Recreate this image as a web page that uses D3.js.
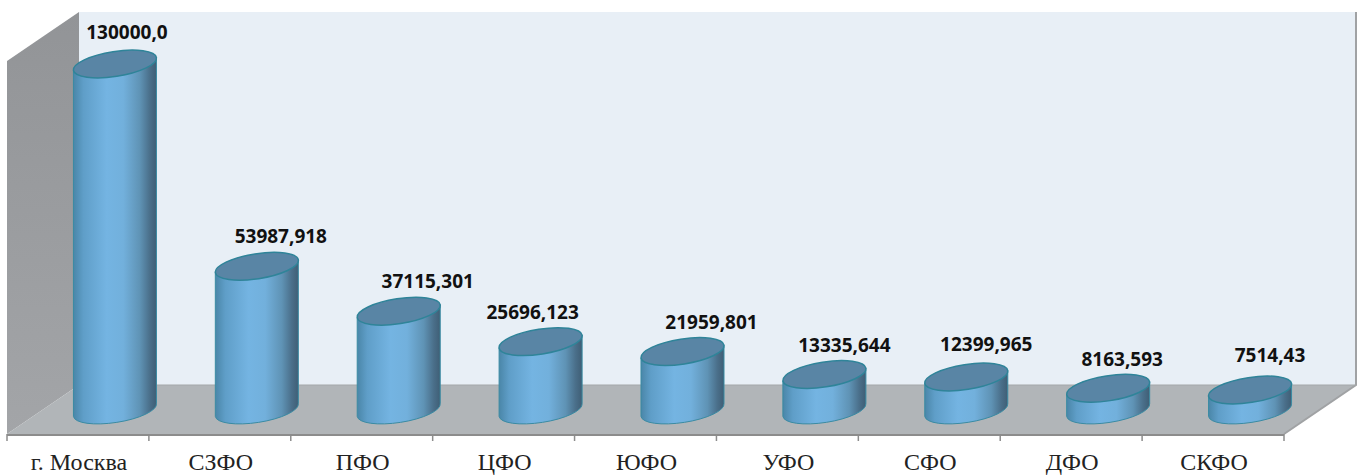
<!DOCTYPE html>
<html lang="ru">
<head>
  <meta charset="UTF-8" />
  <title>Федеральные округа</title>
  <script src="https://d3js.org/d3.v7.min.js"></script>
  <style>
    html, body { margin: 0; padding: 0; background: #fff; overflow: hidden; }
    svg { display: block; }
    .cat text { font-family: 'Liberation Serif', serif; font-size: 24px; fill: #222; }
    .val { font-family: 'Open Sans', sans-serif; font-weight: 700; font-size: 19px; fill: #111; }
  </style>
</head>
<body>
<svg id="chart" width="1366" height="476"></svg>
<script>
  const categories = ["г. Москва", "СЗФО", "ПФО", "ЦФО", "ЮФО", "УФО", "СФО", "ДФО", "СКФО"];
  const values = [130000, 53987.918, 37115.301, 25696.123, 21959.801, 13335.644, 12399.965, 8163.593, 7514.43];
  const valueLabels = ["130000,0", "53987,918", "37115,301", "25696,123", "21959,801", "13335,644", "12399,965", "8163,593", "7514,43"];

  // hand placed labels in the original, offset from the top of each cylinder
  const labelDx = [12, 24, 29, -8, 29, 20, 20, 14, 20];
  const labelDy = [-32, -30, -30, -30, -30, -30, -33, -29, -35];

  // box of the fake 3d chart
  const left = 7, right = 1284, floorY = 434;
  const depthX = 72, depthY = 49, wallH = 373;
  const shiftX = 37;          // cylinders stand in the middle of the floor
  const rx = 42, ry = 12.5, tilt = -8.8;

  const svg = d3.select("#chart");

  const x = d3.scaleBand().domain(categories).range([left, right]);
  const y = d3.scaleLinear().domain([0, 130000]).range([410, 64]);

  const defs = svg.append("defs");
  const grad = defs.append("linearGradient").attr("id", "side");
  [["0%", "#4a86a8"], ["12%", "#5f9ec8"], ["40%", "#74b4e2"], ["60%", "#72b0dc"], ["80%", "#5f93b5"], ["92%", "#4a6f8a"], ["100%", "#3f5e75"]]
    .forEach(s => grad.append("stop").attr("offset", s[0]).attr("stop-color", s[1]));
  const wallGrad = defs.append("linearGradient").attr("id", "wall").attr("x1", 0).attr("x2", 0).attr("y1", 0).attr("y2", 1);
  wallGrad.append("stop").attr("offset", "0%").attr("stop-color", "#929497");
  wallGrad.append("stop").attr("offset", "100%").attr("stop-color", "#a3a5a8");

  const pts = a => a.map(p => p.join(",")).join(" ");

  // back wall, left wall, floor
  svg.append("polygon").attr("fill", "#e8eff6")
    .attr("points", pts([[left + depthX, floorY - depthY - wallH], [right + depthX, floorY - depthY - wallH],
      [right + depthX, floorY - depthY], [left + depthX, floorY - depthY]]));
  svg.append("polygon").attr("fill", "url(#wall)")
    .attr("points", pts([[left, floorY - wallH], [left + depthX, floorY - depthY - wallH],
      [left + depthX, floorY - depthY], [left, floorY]]));
  svg.append("polygon").attr("fill", "#b1b5b8")
    .attr("points", pts([[left, floorY], [left + depthX, floorY - depthY],
      [right + depthX, floorY - depthY], [right, floorY]]));

  // outline on the right side
  svg.append("polyline").attr("fill", "none").attr("stroke", "#a0a2a4").attr("stroke-width", 2)
    .attr("points", pts([[right + depthX, floorY - depthY - wallH], [right + depthX, floorY - depthY], [right, floorY]]));
  svg.append("line").attr("x1", left + depthX).attr("x2", right + depthX)
    .attr("y1", floorY - depthY).attr("y2", floorY - depthY)
    .attr("stroke", "#a4a7a9").attr("stroke-width", 1);

  // axis: labels from d3.axisBottom, ticks on the band edges
  const axis = svg.append("g").attr("class", "cat").attr("transform", `translate(1,${floorY})`)
    .call(d3.axisBottom(x).tickSize(0).tickPadding(19));
  axis.select(".domain").remove();
  axis.selectAll("text").attr("dy", "0.71em");

  svg.append("line").attr("x1", left).attr("x2", right).attr("y1", floorY + 1).attr("y2", floorY + 1)
    .attr("stroke", "#8c8c8c").attr("stroke-width", 2);
  const edges = categories.map(c => x(c)).concat([right]);
  svg.selectAll(".tick-mark").data(edges).enter().append("line")
    .attr("class", "tick-mark")
    .attr("x1", d => d).attr("x2", d => d)
    .attr("y1", floorY).attr("y2", floorY + 7)
    .attr("stroke", "#8c8c8c").attr("stroke-width", 1.5);

  // cylinders
  const rad = tilt * Math.PI / 180;
  const dx = rx * Math.cos(rad), dy = rx * Math.sin(rad);
  const cx = c => x(c) + x.bandwidth() / 2 + shiftX;

  const bars = svg.selectAll(".bar").data(categories).enter().append("g").attr("class", "bar");

  bars.append("path")
    .attr("fill", "url(#side)")
    .attr("stroke", "#3a8ba3").attr("stroke-width", 1)
    .attr("d", (c, i) => {
      const xc = cx(c), t = y(values[i]), b = y(0);
      return `M${xc - dx},${t - dy}L${xc - dx},${b - dy}` +
        `A${rx},${ry} ${tilt} 0 0 ${xc + dx},${b + dy}` +
        `L${xc + dx},${t + dy}Z`;
    });

  bars.append("ellipse")
    .attr("rx", rx).attr("ry", ry)
    .attr("transform", (c, i) => `translate(${cx(c)},${y(values[i])}) rotate(${tilt})`)
    .attr("fill", "#5985a5")
    .attr("stroke", "#2f8499").attr("stroke-width", 1.5);

  bars.append("text")
    .attr("class", "val")
    .attr("text-anchor", "middle")
    .attr("dominant-baseline", "central")
    .attr("x", (c, i) => cx(c) + labelDx[i])
    .attr("y", (c, i) => y(values[i]) + labelDy[i])
    .text((c, i) => valueLabels[i]);
</script>
</body>
</html>
